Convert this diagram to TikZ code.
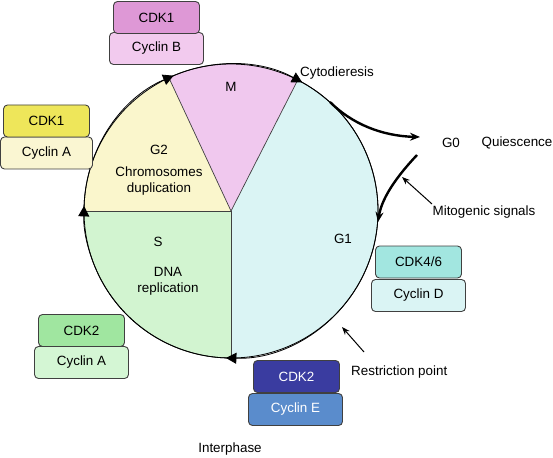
\documentclass[tikz,border=0pt]{standalone}
\usepackage{fontspec}
\setmainfont{Liberation Sans}
\usetikzlibrary{arrows.meta}
\definecolor{mcol}{HTML}{F0C8EE}
\definecolor{gtwocol}{HTML}{FAF6CC}
\definecolor{scol}{HTML}{D2F4D0}
\definecolor{gonecol}{HTML}{DAF4F4}
\definecolor{cdkmag}{HTML}{DE98D6}
\definecolor{cycmag}{HTML}{F2CAEE}
\definecolor{cdkyel}{HTML}{EEE65A}
\definecolor{cycyel}{HTML}{FAF6D2}
\definecolor{cdkgrn}{HTML}{A0E6A0}
\definecolor{cycgrn}{HTML}{D4F6D4}
\definecolor{cdkblu}{HTML}{3A3CA0}
\definecolor{cycblu}{HTML}{5A8CCC}
\definecolor{cdkteal}{HTML}{A2E6E0}
\definecolor{cycteal}{HTML}{DAF4F4}
\begin{document}
\begin{tikzpicture}[x=1pt,y=-1pt,
  every node/.style={font=\fontsize{13.4}{16}\selectfont, inner sep=0pt},
  box/.style={draw=black!75, line width=0.9pt, rounded corners=4pt, minimum height=32pt, align=center},
  cdkbox/.style={box, minimum width=86pt},
  cycbox/.style={box, minimum width=94pt},
  sectoredge/.style={draw=black!75, line width=0.7pt},
  rim/.style={draw=black, line width=0.8pt, -{Triangle[length=10.5pt,width=11pt]}},
  bigarrow/.style={line width=2.4pt, -{Stealth[length=10pt,width=8pt]}},
  thinarrow/.style={line width=1pt, -{Stealth[length=8pt,width=6pt]}}]
\useasboundingbox (0,0) rectangle (553,457);
\coordinate (C) at (231,211);
\def\R{147}
% sectors
\fill[gonecol] (C) -- +(-63:\R) arc[start angle=-63,end angle=90,radius=\R] -- cycle;
\fill[scol] (C) -- +(90:\R) arc[start angle=90,end angle=180,radius=\R] -- cycle;
\fill[gtwocol] (C) -- +(180:\R) arc[start angle=180,end angle=245,radius=\R] -- cycle;
\fill[mcol] (C) -- +(245:\R) arc[start angle=245,end angle=297,radius=\R] -- cycle;
% sector boundaries
\coordinate (pM) at ([shift={(-63:\R)}]C);
\coordinate (pB) at ([shift={(90:\R)}]C);
\coordinate (pL) at ([shift={(180:\R)}]C);
\coordinate (pT) at ([shift={(245:\R)}]C);
\draw[sectoredge] (C) -- (pM);
\draw[sectoredge] (C) -- (pB);
\draw[sectoredge] (C) -- (pL);
\draw[sectoredge] (C) -- (pT);
% rim with arrowheads
\draw[rim] (pM) arc[start angle=-63,end angle=92,radius=\R];
\draw[rim] (pB) arc[start angle=90,end angle=182,radius=\R];
\draw[rim] (pL) arc[start angle=180,end angle=247,radius=\R];
\draw[rim] (pT) arc[start angle=245,end angle=299,radius=\R];
\draw[draw=black, line width=0.8pt] (C) circle[radius=\R];
% phase labels
\node (m) at (231,87) {M};
\node (g2) at (159,150) {G2};
\node[align=center] (g2t) at (159,181) {Chromosomes\\duplication};
\node (s) at (158,242) {S};
\node[align=center] (st) at (168,281) {DNA\\replication};
\node (g1) at (343,239) {G1};
\node (cyto) at (337,73) {Cytodieresis};
\node (g0) at (451,143) {G0};
\node (qui) at (517,143) {Quiescence};
\node (mito) at (484,212) {Mitogenic signals};
\node[anchor=west] (restr) at (351,372) {Restriction point};
\node (inter) at (230,449) {Interphase};
% boxes
\node[cycbox, fill=cycmag] (cycB) at (156.5,48.5) {Cyclin B};
\node[cdkbox, fill=cdkmag] (cdk1a) at (156.5,17.5) {CDK1};
\node[cycbox, fill=cycyel, minimum width=92pt] (cycA1) at (46.5,153) {Cyclin A};
\node[cdkbox, fill=cdkyel] (cdk1b) at (46.5,121) {CDK1};
\node[cycbox, fill=cycgrn] (cycA2) at (81.5,362.5) {Cyclin A};
\node[cdkbox, fill=cdkgrn] (cdk2a) at (81.5,330.5) {CDK2};
\node[cycbox, fill=cycblu, text=white] (cycE) at (295.5,409.5) {Cyclin E};
\node[cdkbox, fill=cdkblu, text=white] (cdk2b) at (296.5,376.5) {CDK2};
\node[cycbox, fill=cycteal] (cycD) at (418.5,295.5) {Cyclin D};
\node[cdkbox, fill=cdkteal] (cdk46) at (418.5,262) {CDK4/6};
% arrows
\coordinate (exitS) at (330,102);
\coordinate (exitE) at (420,137);
\coordinate (reS) at (417,155);
\coordinate (reE) at (378,222);
\coordinate (mitoS) at (432,204);
\coordinate (mitoE) at (402,177);
\coordinate (rpS) at (364,352);
\coordinate (rpE) at (342,327);
\draw[bigarrow] (exitS) .. controls (352,124) and (382,136) .. (exitE);
\draw[bigarrow] (reS) .. controls (400,173) and (382,196) .. (reE);
\draw[thinarrow] (mitoS) -- (mitoE);
\draw[thinarrow] (rpS) -- (rpE);
\end{tikzpicture}
\end{document}
